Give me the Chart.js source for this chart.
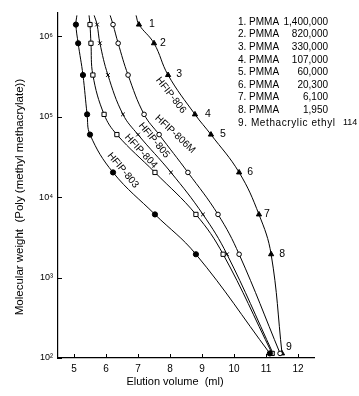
<!DOCTYPE html>
<html>
<head>
<meta charset="utf-8">
<script src="https://cdn.jsdelivr.net/npm/chart.js@4.4.1/dist/chart.umd.min.js"></script>
<style>
  html, body { margin: 0; padding: 0; background: #fff; }
  #wrap { width: 359px; height: 396px; }
</style>
</head>
<body>
<div id="wrap"><canvas id="myChart" width="359" height="396"></canvas></div>
<script>
// calibration standards (molecular weight), top to bottom
const molWeights = [1400000, 820000, 330000, 107000, 60000, 20300, 6100, 1950, 114];
// where the curves leave the top of the frame
const topMW = 1820000;
const topVolumes = [5.09, 5.47, 5.63, 6.13, 6.94];

// elution volume (ml) of each standard, one array per column
const hfip803 = [5.06, 5.13, 5.28, 5.41, 5.50, 6.22, 7.53, 8.81, 11.12];
const hfip804 = [5.50, 5.53, 5.59, 5.94, 6.34, 7.53, 8.81, 9.66, 11.19];
const hfip805 = [5.72, 5.81, 6.06, 6.53, 7.00, 8.03, 9.03, 9.78, 11.22];
const hfip806M = [6.22, 6.38, 6.69, 7.19, 7.66, 8.56, 9.50, 10.16, 11.44];
const hfip806 = [7.03, 7.50, 7.94, 8.78, 9.28, 10.16, 10.78, 11.16, 11.50];

const xTicks = [5, 6, 7, 8, 9, 10, 11, 12];
const yTicks = [100, 1000, 10000, 100000, 1000000];
const supers = {2: "\u00B2", 3: "\u00B3", 4: "\u2074", 5: "\u2075", 6: "\u2076"};

const legendNames = ["1. PMMA", "2. PMMA", "3. PMMA", "4. PMMA", "5. PMMA",
                     "6. PMMA", "7. PMMA", "8. PMMA", "9. Methacrylic ethyl"];
const legendNums = ["1,400,000", "820,000", "330,000", "107,000", "60,000",
                    "20,300", "6,100", "1,950", "114"];

// curve names, placed along each curve (volume, MW, angle deg)
const curveNames = ["HFIP-803", "HFIP-804", "HFIP-805", "HFIP-806M", "HFIP-806"];
const namePos = [[6.53, 21600, 50], [7.09, 37300, 47], [7.50, 51000, 50], [8.16, 60700, 43], [8.03, 185000, 52]];
// offsets of the numbers 1..9 beside the triangles (px)
const numOffsets = [[13, 0], [9, 0], [11, -1], [13, 0], [12, 0], [11, 0], [8, 0], [11, 0], [7, -6]];

const FONT = "'Liberation Sans', Arial, Helvetica, sans-serif";

function series(vols, top){
    let pts = [{x: top, y: topMW}];
    vols.forEach((v, i) => pts.push({x: v, y: molWeights[i]}));
    return pts;
}

function make_ds(label, vols, top, style, radius, filled){
    return {
        label: label,
        data: series(vols, top),
        showLine: true,
        borderColor: "#000",
        borderWidth: 1,
        tension: 0.4,
        pointStyle: style,
        pointRadius: ctx => ctx.dataIndex === 0 ? 0 : radius,
        pointBorderWidth: 1,
        pointBorderColor: "#000",
        pointBackgroundColor: filled ? "#000" : "#fff"
    };
}

const datasets = [
    make_ds("HFIP-803", hfip803, topVolumes[0], "circle", 2.6, true),
    make_ds("HFIP-804", hfip804, topVolumes[1], "rect", 3, false),
    make_ds("HFIP-805", hfip805, topVolumes[2], "crossRot", 2.6, false),
    make_ds("HFIP-806M", hfip806M, topVolumes[3], "circle", 2.3, false),
    make_ds("HFIP-806", hfip806, topVolumes[4], "triangle", 3, true)
];

const extras = {
    id: "extras",
    afterDraw(chart){
        const {ctx, chartArea, scales} = chart;
        const x = scales.x, y = scales.y;
        ctx.save();
        ctx.strokeStyle = "#000";
        ctx.lineWidth = 1;
        // inward ticks
        ctx.beginPath();
        xTicks.forEach(v => {
            const px = Math.round(x.getPixelForValue(v)) + 0.5;
            ctx.moveTo(px, chartArea.bottom);
            ctx.lineTo(px, chartArea.bottom - 4);
        });
        yTicks.forEach(v => {
            const py = Math.round(y.getPixelForValue(v)) + 0.5;
            ctx.moveTo(chartArea.left, py);
            ctx.lineTo(chartArea.left + 4, py);
        });
        ctx.stroke();

        ctx.fillStyle = "#000";
        // numbers beside the triangles
        ctx.font = "10.5px " + FONT;
        ctx.textAlign = "center";
        ctx.textBaseline = "middle";
        const tri = chart.getDatasetMeta(4).data;
        for (let i = 0; i < molWeights.length; i++){
            const p = tri[i + 1];
            ctx.fillText(String(i + 1), p.x + numOffsets[i][0], p.y + numOffsets[i][1]);
        }

        // curve names
        ctx.font = "10px " + FONT;
        curveNames.forEach((n, i) => {
            const px = x.getPixelForValue(namePos[i][0]);
            const py = y.getPixelForValue(namePos[i][1]);
            ctx.save();
            ctx.translate(px, py);
            ctx.rotate(namePos[i][2] * Math.PI / 180);
            ctx.fillText(n, 0, 0);
            ctx.restore();
        });

        // legend list
        ctx.textBaseline = "middle";
        legendNames.forEach((n, i) => {
            const ly = 22 + i * 12.6;
            ctx.font = "10px " + FONT;
            ctx.textAlign = "left";
            if (i < 8){
                ctx.fillText(n, 238, ly);
                ctx.textAlign = "right";
                ctx.fillText(legendNums[i], 328, ly);
            } else {
                ctx.letterSpacing = "0.6px";
                ctx.fillText(n, 238, ly);
                ctx.letterSpacing = "0px";
                ctx.font = "9px " + FONT;
                ctx.fillText(legendNums[i], 343, ly);
            }
        });

        // axis titles
        ctx.font = "11px " + FONT;
        ctx.textAlign = "center";
        ctx.fillText("Elution volume  (ml)", 175, 382);
        ctx.font = "11.5px " + FONT;
        ctx.save();
        ctx.translate(20, 197);
        ctx.rotate(-Math.PI / 2);
        ctx.fillText("Molecular weight  (Poly (methyl methacrylate))", 0, 0);
        ctx.restore();
        ctx.restore();
    }
};

const _chart = new Chart(document.getElementById("myChart"), {
    type: "scatter",
    data: {datasets: datasets},
    plugins: [extras],
    options: {
        responsive: false,
        devicePixelRatio: 1,
        animation: false,
        layout: {padding: {top: 13, right: 45, left: 0, bottom: 0}},
        plugins: {legend: {display: false}, tooltip: {enabled: false}},
        scales: {
            x: {
                type: "linear",
                min: 4.5,
                max: 12.5,
                afterBuildTicks: s => { s.ticks = xTicks.map(v => ({value: v})); },
                afterFit: s => { s.height = 38; },
                grid: {display: false, drawTicks: false},
                border: {display: true, color: "#000", width: 1.2},
                ticks: {color: "#000", padding: 5, font: {family: FONT, size: 10}}
            },
            y: {
                type: "logarithmic",
                min: 100,
                max: 1950000,
                afterBuildTicks: s => { s.ticks = yTicks.map(v => ({value: v})); },
                afterFit: s => { s.width = 58; },
                grid: {display: false, drawTicks: false},
                border: {display: true, color: "#000", width: 1.2},
                ticks: {
                    color: "#000",
                    padding: 5,
                    font: {family: FONT, size: 9},
                    callback: v => "10" + supers[Math.round(Math.log10(v))]
                }
            }
        }
    }
});
</script>
</body>
</html>
